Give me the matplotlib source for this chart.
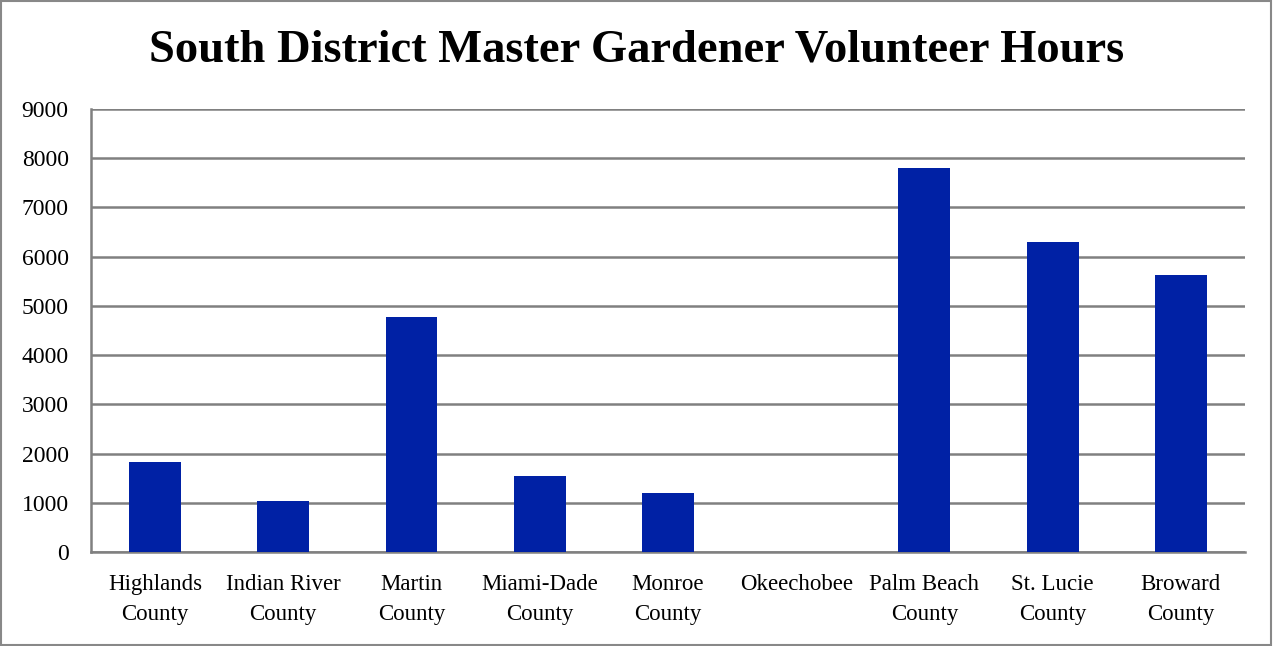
import numpy as np
import matplotlib.pyplot as plt
from matplotlib.patches import Rectangle

counties = ['Highlands\nCounty', 'Indian River\nCounty', 'Martin\nCounty',
            'Miami-Dade\nCounty', 'Monroe\nCounty', 'Okeechobee',
            'Palm Beach\nCounty', 'St. Lucie\nCounty', 'Broward\nCounty']
hours = [1830, 1030, 4770, 1545, 1200, 0, 7800, 6295, 5630]
yticks = [0, 1000, 2000, 3000, 4000, 5000, 6000, 7000, 8000, 9000]

plt.rcParams['font.family'] = ['Liberation Serif', 'DejaVu Serif']

fig = plt.figure(figsize=(12.74, 6.46), dpi=100)
ax = fig.add_axes([0.0714, 0.1455, 0.9058, 0.6858])

x = np.arange(len(counties))
ax.bar(x, hours, width=0.405, color='#0021A5', zorder=3)

ax.set_xlim(-0.5, len(counties) - 0.5)
ax.set_ylim(0, 9000)
ax.set_yticks(yticks)
ax.set_xticks(x)
ax.set_xticklabels(counties, fontsize=16.5, linespacing=1.55)
ax.tick_params(axis='y', labelsize=17, length=0, pad=16)
ax.tick_params(axis='x', length=0, pad=16)
ax.grid(axis='y', color='#808080', linewidth=1.8, zorder=0)

for s in ['top', 'right']:
    ax.spines[s].set_visible(False)
for s in ['left', 'bottom']:
    ax.spines[s].set_color('#808080')
    ax.spines[s].set_linewidth(1.8)

fig.text(0.5, 0.922, 'South District Master Gardener Volunteer Hours',
         ha='center', va='center', fontsize=33.5, fontweight='bold')

fig.patches.append(Rectangle((0.001, 0.002), 0.997, 0.996, transform=fig.transFigure,
                             fill=False, edgecolor='#888888', linewidth=1.5))

fig.savefig('out.png', dpi=100)
